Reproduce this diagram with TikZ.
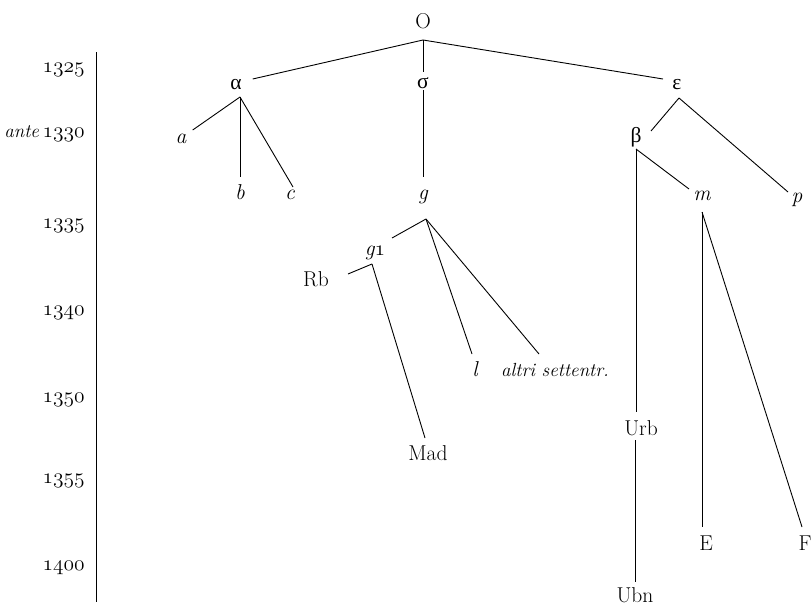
\RequirePackage{fix-cm}
\documentclass[tikz,border=0pt]{standalone}
\usepackage{fontspec}
\newfontfamily\grk{Liberation Serif}
\newcommand\osn[1]{{\usefont{OML}{cmm}{m}{it}#1}}
\begin{document}
\begin{tikzpicture}[x=1pt,y=-1pt,
  lbl/.style={anchor=base,inner sep=0pt,font=\fontsize{21.5}{25}\selectfont},
  itl/.style={anchor=base,inner sep=0pt,font=\fontsize{21.5}{25}\selectfont\itshape},
  yr/.style={anchor=base east,inner sep=0pt,font=\fontsize{21.5}{25}\selectfont},
  edge/.style={line width=0.9pt}]
\useasboundingbox (0,0) rectangle (811,605);
% timeline
\coordinate (tTop) at (96,52);
\coordinate (tBot) at (96,602);
\draw[edge] (tTop) -- (tBot);
\node[yr] (y1325) at (85,72) {\osn{1325}};
\node[yr] (y1330) at (85,137) {{\fontsize{19}{23}\selectfont\textit{ante}}\,\osn{1330}};
\node[yr] (y1335) at (85,228) {\osn{1335}};
\node[yr] (y1340) at (85,315) {\osn{1340}};
\node[yr] (y1350) at (85,402) {\osn{1350}};
\node[yr] (y1355) at (85,483) {\osn{1355}};
\node[yr] (y1400) at (85,570) {\osn{1400}};
% nodes
\node[lbl] (O) at (423,28) {O};
\node[lbl] (alpha) at (236,89) {\grk α};
\node[lbl] (sigma) at (423,88) {\grk σ};
\node[lbl] (eps) at (677,89) {\grk ε};
\node[itl] (a) at (181,143) {a};
\node[itl] (b) at (240,199) {b};
\node[itl] (c) at (290,199) {c};
\node[itl] (g) at (423,199) {g};
\node[lbl] (beta) at (636,142) {\grk β};
\node[itl] (m) at (702,200) {m};
\node[itl] (p) at (797,202) {p};
\node[itl] (g1) at (375,255) {g\osn{1}};
\node[lbl] (Rb) at (316,286) {Rb};
\node[itl] (l) at (475,376) {l};
\node[itl,font=\fontsize{19}{23}\selectfont\itshape] (altri) at (555,376) {altri settentr.};
\node[lbl] (Urb) at (641,435) {Urb};
\node[lbl] (Mad) at (428,460) {Mad};
\node[lbl] (E) at (706,550) {E};
\node[lbl] (F) at (805,550) {F};
\node[lbl] (Ubn) at (635,602) {Ubn};
% connectors
\draw[edge] ([yshift=-12pt]O.base) -- ([xshift=16.7pt,yshift=10pt]alpha.base);
\draw[edge] ([yshift=-12pt]O.base) -- ([yshift=16pt]sigma.base);
\draw[edge] ([yshift=-12pt]O.base) -- ([xshift=-14pt,yshift=10pt]eps.base);
\draw[edge] ([xshift=4pt,yshift=-8pt]alpha.base) -- ([xshift=11.7pt,yshift=13pt]a.base);
\draw[edge] ([xshift=4pt,yshift=-8pt]alpha.base) -- ([yshift=22pt]b.base);
\draw[edge] ([xshift=4pt,yshift=-8pt]alpha.base) -- ([xshift=3pt,yshift=12pt]c.base);
\draw[edge] ([yshift=-2pt]sigma.base) -- ([yshift=22pt]g.base);
\draw[edge] ([xshift=3pt,yshift=-20pt]g.base) -- ([xshift=17pt,yshift=17pt]g1.base);
\draw[edge] ([xshift=3pt,yshift=-20pt]g.base) -- ([xshift=-3pt,yshift=22pt]l.base);
\draw[edge] ([xshift=3pt,yshift=-20pt]g.base) -- ([xshift=-16pt,yshift=22pt]altri.base);
\draw[edge] ([xshift=-3pt,yshift=-9pt]g1.base) -- ([xshift=32pt,yshift=12pt]Rb.base);
\draw[edge] ([xshift=-3pt,yshift=-9pt]g1.base) -- ([xshift=-3pt,yshift=22pt]Mad.base);
\draw[edge] ([xshift=2pt,yshift=-9pt]eps.base) -- ([xshift=15pt,yshift=11pt]beta.base);
\draw[edge] ([xshift=2pt,yshift=-9pt]eps.base) -- ([xshift=-9pt,yshift=10pt]p.base);
\draw[edge] ([yshift=-7pt]beta.base) -- ([xshift=-13pt,yshift=11pt]m.base);
\draw[edge] ([yshift=-7pt]beta.base) -- ([xshift=-5pt,yshift=23pt]Urb.base);
\draw[edge] ([yshift=-12pt]m.base) -- ([xshift=-4pt,yshift=23pt]E.base);
\draw[edge] ([yshift=-12pt]m.base) -- ([xshift=-3pt,yshift=23pt]F.base);
\draw[edge] ([xshift=-6pt,yshift=-5pt]Urb.base) -- ([yshift=20pt]Ubn.base);
\end{tikzpicture}
\end{document}
